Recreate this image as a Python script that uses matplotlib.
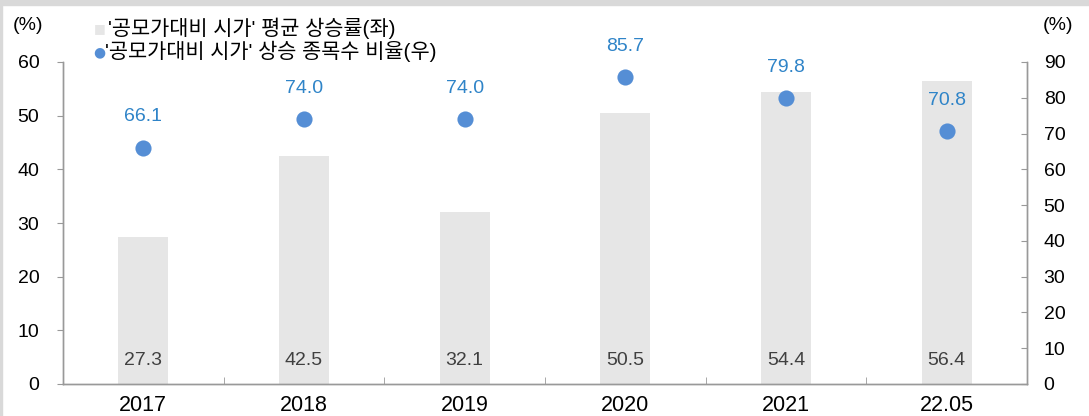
import numpy as np
import matplotlib.pyplot as plt
from matplotlib.patches import Rectangle

plt.rcParams['font.family'] = ['Liberation Sans', 'Noto Sans CJK KR', 'DejaVu Sans']

categories = ['2017', '2018', '2019', '2020', '2021', '22.05']
avg_rise = [27.3, 42.5, 32.1, 50.5, 54.4, 56.4]
rise_ratio = [66.1, 74.0, 74.0, 85.7, 79.8, 70.8]

bar_label = "'공모가대비 시가' 평균 상승률(좌)"
dot_label = "'공모가대비 시가' 상승 종목수 비율(우)"

fig = plt.figure(figsize=(10.89, 4.16), dpi=100)
ax = fig.add_axes([63 / 1089, 1 - 384 / 416, 964 / 1089, 322 / 416])
ax2 = ax.twinx()

x = np.arange(len(categories))
ax.bar(x, avg_rise, width=0.31, color='#e6e6e6', zorder=1)
for xi, v in zip(x, avg_rise):
    ax.text(xi, 4.3, f'{v:.1f}', ha='center', va='center', fontsize=14, color='#404040')

ax2.scatter(x, rise_ratio, s=135, color='#558ed5', zorder=3, linewidths=0)
for xi, v in zip(x, rise_ratio):
    ax2.annotate(f'{v:.1f}', (xi, v), xytext=(0, 22), textcoords='offset points',
                 ha='center', va='center', fontsize=14, color='#2f84c8')

ax.set_xlim(-0.5, len(categories) - 0.5)
ax.set_ylim(0, 60)
ax2.set_ylim(0, 90)
ax.set_yticks(np.arange(0, 61, 10))
ax2.set_yticks(np.arange(0, 91, 10))
ax.set_xticks(x)
ax.set_xticklabels(categories)
ax.set_xticks(np.arange(0.5, len(categories) - 0.5, 1), minor=True)

for a in (ax, ax2):
    a.spines['top'].set_visible(False)
    for s in ('left', 'right', 'bottom'):
        a.spines[s].set_color('#999999')
        a.spines[s].set_linewidth(1.0)

ax.tick_params(axis='y', direction='out', length=4, color='#999999', labelsize=14, pad=13)
ax2.tick_params(axis='y', direction='in', length=4, color='#999999', labelsize=14, pad=12)
ax.tick_params(axis='x', which='major', length=0, labelsize=15.5, pad=8)
ax.tick_params(axis='x', which='minor', direction='in', length=5, color='#999999')

fig.text(28 / 1089, 1 - 25 / 416, '(%)', ha='center', va='center', fontsize=14)
fig.text(1058 / 1089, 1 - 25 / 416, '(%)', ha='center', va='center', fontsize=14)

fig.text(100 / 1089, 1 - 29 / 416, '■', ha='center', va='center', fontsize=9,
         color='#e6e6e6', family='DejaVu Sans')
fig.text(108 / 1089, 1 - 28 / 416, bar_label, ha='left', va='center', fontsize=15)
fig.text(99 / 1089, 1 - 52 / 416, '●', ha='center', va='center', fontsize=10,
         color='#558ed5', family='DejaVu Sans')
fig.text(105 / 1089, 1 - 51 / 416, dot_label, ha='left', va='center', fontsize=15)

fig.patches.append(Rectangle((0, 1 - 5 / 416), 1, 5 / 416, transform=fig.transFigure,
                             color='#d9d9d9', zorder=0))
fig.patches.append(Rectangle((0, 0), 2 / 1089, 1, transform=fig.transFigure,
                             color='#d9d9d9', zorder=0))

fig.savefig('out.png', dpi=100)
